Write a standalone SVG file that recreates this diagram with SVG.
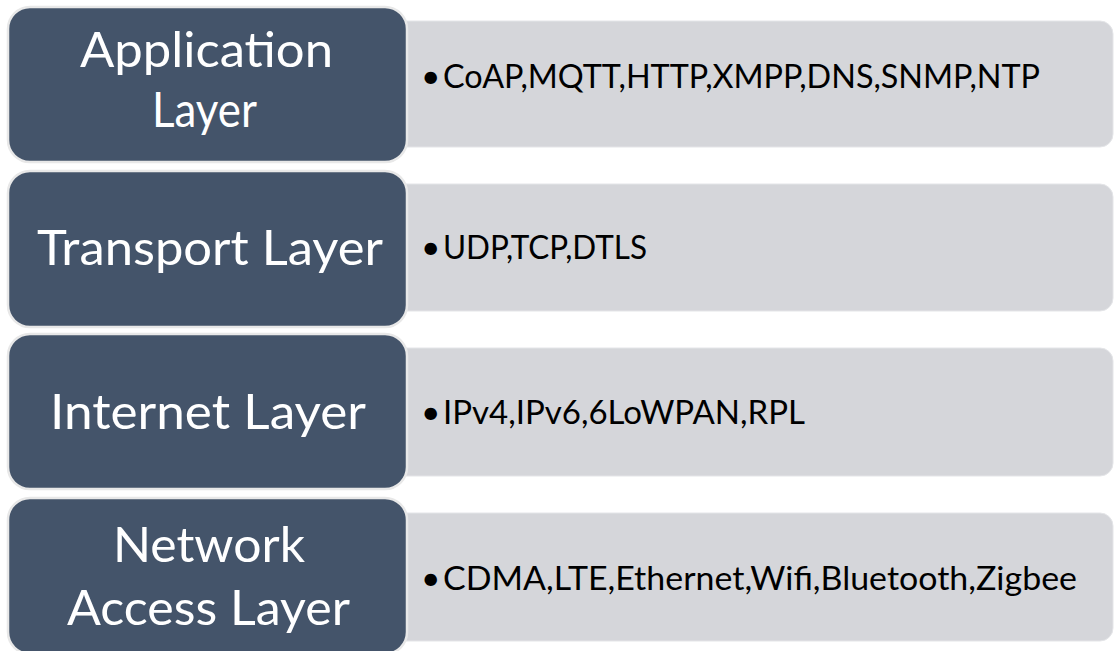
<svg xmlns="http://www.w3.org/2000/svg" width="1114" height="651" viewBox="0 0 1114 651">
  <style>
    .dark { fill: #44546A; stroke: #E8E8E8; stroke-width: 2.5; }
    .light { fill: #D5D6DA; stroke: #E4E5E8; stroke-width: 1; }
    .title { font-family: Lato, "Liberation Sans", sans-serif; font-size: 48px; fill: #FFFFFF; }
    .item { font-family: Lato, "Liberation Sans", sans-serif; font-size: 33.5px; fill: #000000; }
  </style>
  <rect width="1114" height="651" fill="#FFFFFF"/>
  <g id="row-application">
    <rect class="light" x="380" y="21" width="733" height="126" rx="13"/>
    <rect class="dark" x="8" y="7" width="399" height="155" rx="22"/>
    <text class="title" x="80" y="67" textLength="253" lengthAdjust="spacingAndGlyphs">Application</text>
    <text class="title" x="152" y="127" textLength="105" lengthAdjust="spacingAndGlyphs">Layer</text>
    <text class="item" x="421" y="88">•</text>
    <text class="item" x="443" y="88" textLength="597" lengthAdjust="spacingAndGlyphs">CoAP,MQTT,HTTP,XMPP,DNS,SNMP,NTP</text>
  </g>
  <g id="row-transport">
    <rect class="light" x="380" y="184" width="733" height="127" rx="13"/>
    <rect class="dark" x="8" y="171" width="399" height="156" rx="22"/>
    <text class="title" x="37" y="265" textLength="346" lengthAdjust="spacingAndGlyphs">Transport Layer</text>
    <text class="item" x="421" y="259">•</text>
    <text class="item" x="443" y="259" textLength="204" lengthAdjust="spacingAndGlyphs">UDP,TCP,DTLS</text>
  </g>
  <g id="row-internet">
    <rect class="light" x="380" y="348" width="733" height="128" rx="13"/>
    <rect class="dark" x="8" y="334" width="399" height="155" rx="22"/>
    <text class="title" x="50" y="429" textLength="316" lengthAdjust="spacingAndGlyphs">Internet Layer</text>
    <text class="item" x="421" y="424">•</text>
    <text class="item" x="443" y="424" textLength="362" lengthAdjust="spacingAndGlyphs">IPv4,IPv6,6LoWPAN,RPL</text>
  </g>
  <g id="row-network-access">
    <rect class="light" x="380" y="513" width="733" height="128" rx="13"/>
    <rect class="dark" x="8" y="498" width="399" height="156" rx="22"/>
    <text class="title" x="113" y="562" textLength="192" lengthAdjust="spacingAndGlyphs">Network</text>
    <text class="title" x="67" y="625" textLength="283" lengthAdjust="spacingAndGlyphs">Access Layer</text>
    <text class="item" x="421" y="590">•</text>
    <text class="item" x="443" y="590" textLength="634" lengthAdjust="spacingAndGlyphs">CDMA,LTE,Ethernet,Wifi,Bluetooth,Zigbee</text>
  </g>
  <g id="connectors"/>
</svg>
